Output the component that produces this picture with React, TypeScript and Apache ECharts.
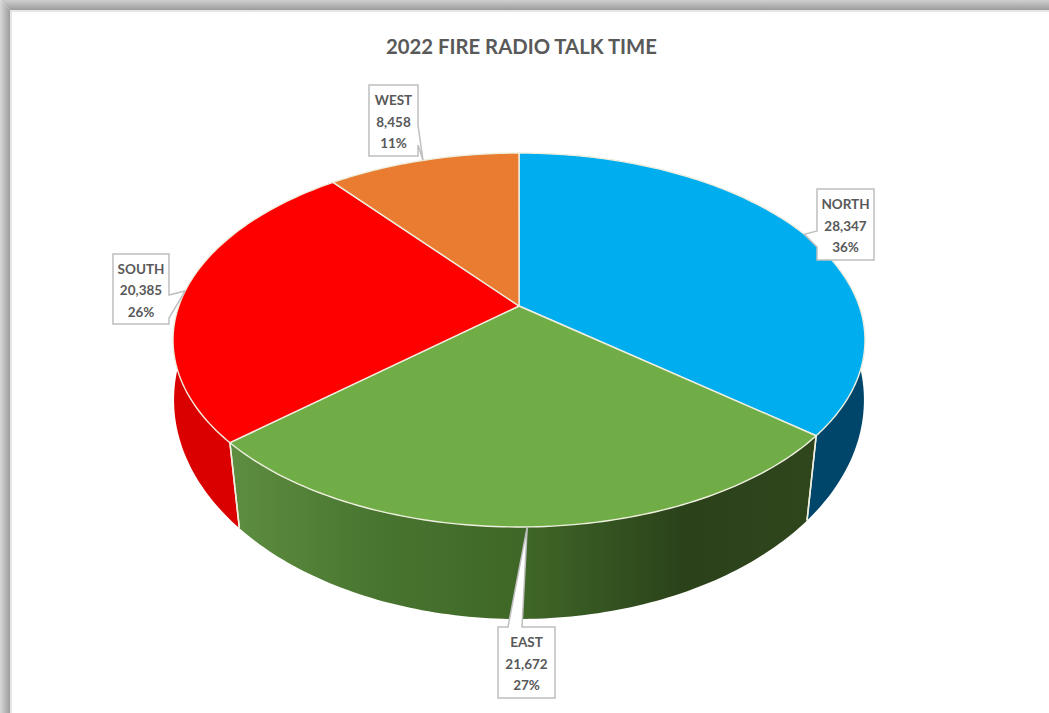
import React, { useEffect, useRef } from "react";
import * as echarts from "echarts";

// Talk time per fire radio zone
const zones = ["NORTH", "EAST", "SOUTH", "WEST"];
const talkTime = [28347, 21672, 20385, 8458];

const topColors = ["#00AEEF", "#70AD47", "#FF0000", "#E97C30"];
const sideColors = ["#00466A", "", "#DB0000", "#A5561F"];
const eastSideStops = [
  { offset: 0, color: "#5E8E40" },
  { offset: 0.25, color: "#487530" },
  { offset: 0.5, color: "#3F6727" },
  { offset: 0.78, color: "#2A411A" },
  { offset: 1, color: "#2F461D" },
];

// Perspective of the top and bottom disc of the drum
const topDisc = { cx: 519, cy: 306, a: 340.2, b: 180.8, k: 0.1818 };
const bottomDisc = { cx: 519, cy: 371.5, a: 342, b: 215.3, k: 0.13 };

// Callout boxes; the tail base sits on one side between t0 and t1
const callouts = [
  { x: 817, y: 189, w: 57, h: 71, side: "left", t0: 231, t1: 247 },
  { x: 498, y: 627, w: 57, h: 71, side: "top", t0: 508, t1: 522 },
  { x: 113, y: 254, w: 56, h: 70, side: "right", t0: 295, t1: 318 },
  { x: 369, y: 85, w: 49, h: 71, side: "right", t0: 125, t1: 145 },
];

const total = talkTime.reduce((s, v) => s + v, 0);
const FONT = "Lato, Carlito, Calibri, sans-serif";

type Disc = typeof topDisc;

// Clockwise angle from twelve o'clock projected on a disc
function project(d: Disc, angle: number): number[] {
  const u = Math.sin(angle);
  const v = Math.cos(angle);
  const w = 1 + d.k * v;
  return [d.cx + (d.a * u) / w, d.cy - (d.b * v) / w];
}

function rim(d: Disc, a0: number, a1: number): number[][] {
  const steps = Math.max(2, Math.ceil(Math.abs(a1 - a0) / (Math.PI / 180)));
  const pts: number[][] = [];
  for (let i = 0; i <= steps; i++) pts.push(project(d, a0 + ((a1 - a0) * i) / steps));
  return pts;
}

function calloutOutline(c: (typeof callouts)[number], tip: number[]): number[][] {
  const r = c.x + c.w;
  const b = c.y + c.h;
  if (c.side === "left")
    return [[c.x, c.y], [r, c.y], [r, b], [c.x, b], [c.x, c.t1], tip, [c.x, c.t0]];
  if (c.side === "right")
    return [[c.x, c.y], [r, c.y], [r, c.t0], tip, [r, c.t1], [r, b], [c.x, b]];
  return [[c.x, c.y], [c.t0, c.y], tip, [c.t1, c.y], [r, c.y], [r, b], [c.x, b]];
}

function sliceAngles(index: number): number[] {
  let before = 0;
  for (let i = 0; i < index; i++) before += talkTime[i];
  const tau = Math.PI * 2;
  return [(before / total) * tau, ((before + talkTime[index]) / total) * tau];
}

const EDGE = "#EFEFDF";

function renderSlice(params: any) {
  const i: number = params.dataIndex;
  const [a0, a1] = sliceAngles(i);
  const upper = rim(topDisc, a0, a1);
  const lower = rim(bottomDisc, a0, a1);
  const sideFill =
    zones[i] === "EAST"
      ? new echarts.graphic.LinearGradient(0, 0, 1, 0, eastSideStops)
      : sideColors[i];
  return {
    type: "polygon",
    shape: { points: upper.concat(lower.slice().reverse()) },
    style: { fill: sideFill },
  };
}

function renderTop(params: any) {
  const i: number = params.dataIndex;
  const [a0, a1] = sliceAngles(i);
  const upper = rim(topDisc, a0, a1);
  const children: any[] = [];
  // Front seams between neighbouring side walls
  [a0, a1].forEach((a) => {
    if (Math.cos(a) < -0.2) {
      const p = project(topDisc, a);
      const q = project(bottomDisc, a);
      children.push({
        type: "line",
        shape: { x1: p[0], y1: p[1], x2: q[0], y2: q[1] },
        style: { stroke: EDGE, lineWidth: 1.5 },
      });
    }
  });
  children.push({
    type: "polygon",
    shape: { points: [[topDisc.cx, topDisc.cy], ...upper] },
    style: { fill: topColors[i], stroke: EDGE, lineWidth: 1.4, lineJoin: "round" },
  });
  return { type: "group", children };
}

function renderLabel(params: any, api: any) {
  const i: number = params.dataIndex;
  const value: number = api.value(0);
  const [a0, a1] = sliceAngles(i);
  const tip = project(topDisc, (a0 + a1) / 2);
  const c = callouts[i];
  const text = [
    zones[i],
    value.toLocaleString("en-US"),
    `${Math.round((value / total) * 100)}%`,
  ].join("\n");
  return {
    type: "group",
    children: [
      {
        type: "polygon",
        shape: { points: calloutOutline(c, tip) },
        style: { fill: "#FFFFFF", stroke: "#BFBFBF", lineWidth: 1.5 },
      },
      {
        type: "text",
        x: c.x + c.w / 2,
        y: c.y + c.h / 2 + 1,
        style: {
          text,
          fill: "#595959",
          font: `bold 13.5px ${FONT}`,
          lineHeight: 21.5,
          align: "center",
          verticalAlign: "middle",
        },
      },
    ],
  };
}

export default function App() {
  const ref = useRef<HTMLDivElement>(null);

  useEffect(() => {
    document.body.style.margin = "0";
    const chart = echarts.init(ref.current!, undefined, { renderer: "svg" });
    const rows = talkTime.map((v) => [v]);
    chart.setOption({
      animation: false,
      backgroundColor: "#FFFFFF",
      title: {
        text: "2022 FIRE RADIO TALK TIME",
        left: 381,
        top: 31,
        textStyle: { color: "#595959", fontFamily: FONT, fontWeight: "bold", fontSize: 20.3 },
      },
      graphic: [
        // Drop shadow along the top and left of the sheet
        {
          type: "polygon",
          shape: { points: [[0, 0], [1049, 0], [1049, 10], [10, 10]] },
          style: {
            fill: new echarts.graphic.LinearGradient(0, 0, 0, 1, [
              { offset: 0, color: "#CFCFCF" },
              { offset: 1, color: "#9C9C9C" },
            ]),
          },
        },
        {
          type: "polygon",
          shape: { points: [[0, 0], [10, 10], [10, 713], [0, 713]] },
          style: {
            fill: new echarts.graphic.LinearGradient(0, 0, 1, 0, [
              { offset: 0, color: "#D8D8D8" },
              { offset: 1, color: "#9C9C9C" },
            ]),
          },
        },
        { type: "rect", shape: { x: 10, y: 10, width: 1039, height: 2 }, style: { fill: "#E6E6E6" } },
        { type: "rect", shape: { x: 10, y: 10, width: 2, height: 703 }, style: { fill: "#E6E6E6" } },
      ],
      series: [
        { type: "custom", coordinateSystem: "none", z: 1, data: rows, renderItem: renderSlice },
        { type: "custom", coordinateSystem: "none", z: 2, data: rows, renderItem: renderTop },
        { type: "custom", coordinateSystem: "none", z: 3, data: rows, renderItem: renderLabel },
      ],
    });
    return () => chart.dispose();
  }, []);

  return <div ref={ref} style={{ width: 1049, height: 713 }} />;
}
